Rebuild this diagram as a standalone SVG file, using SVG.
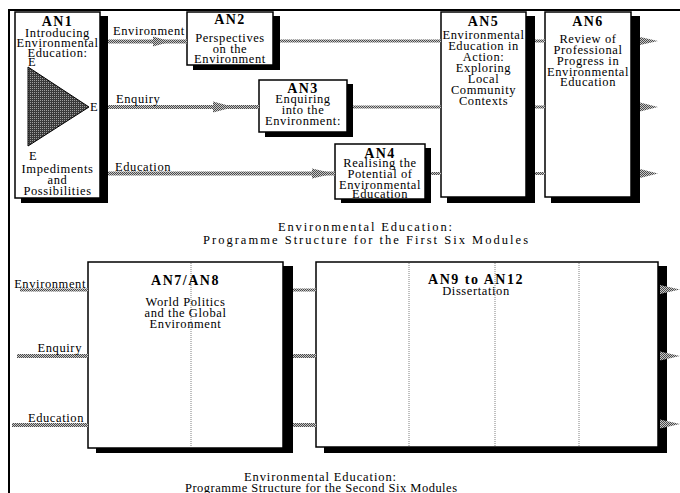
<svg xmlns="http://www.w3.org/2000/svg" width="680" height="493" viewBox="0 0 680 493">
<defs>
<pattern id="hatch" width="2" height="2" patternUnits="userSpaceOnUse"><rect width="2" height="2" fill="#c8c8c8"/><rect width="1" height="1" fill="#4a4a4a"/><rect x="1" y="1" width="1" height="1" fill="#4a4a4a"/></pattern>
<pattern id="dark" width="2" height="2" patternUnits="userSpaceOnUse"><rect width="2" height="2" fill="#3a3a3a"/><rect width="1" height="1" fill="#a0a0a0"/></pattern>
</defs>
<style>
.box{fill:#fff;stroke:#000;stroke-width:1.5}
.sh{fill:#000}
.t{font-family:"Liberation Serif","Times New Roman",serif;font-size:12.5px;letter-spacing:0.6px;text-anchor:middle;fill:#000}
.h{font-weight:bold;font-size:14px;letter-spacing:1.5px}
.l{text-anchor:start}
.r{text-anchor:end}
.cap{font-family:"Liberation Serif","Times New Roman",serif;font-size:12.5px;text-anchor:middle;fill:#000}
.band{fill:url(#hatch)}
.div{stroke:#808080;stroke-width:1;stroke-dasharray:1 1}
.frame{stroke:#000;stroke-width:2;fill:none}
</style>
<path class="frame" d="M9,493 V10 H680"/>

<g id="AN1">
<rect class="sh" x="21" y="16" width="87" height="187"/>
<rect class="box" x="15" y="12" width="85" height="186"/>
<polygon points="28,67 28,146 89,107" fill="url(#dark)" stroke="#000" stroke-width="1"/>
<text class="t h" x="57.5" y="26">AN1</text>
<text class="t" x="57.5" y="37">Introducing</text>
<text class="t" x="57.5" y="47">Environmental</text>
<text class="t" x="57.5" y="57">Education:</text>
<text class="t l" x="28" y="66">E</text>
<text class="t l" x="90" y="111">E</text>
<text class="t l" x="29" y="160">E</text>
<text class="t" x="57.5" y="173">Impediments</text>
<text class="t" x="57.5" y="184">and</text>
<text class="t" x="57.5" y="195">Possibilities</text>
</g>

<g id="AN2">
<rect class="sh" x="193" y="16" width="87" height="54"/>
<rect class="box" x="187" y="12" width="86" height="53"/>
<text class="t h" x="230" y="24">AN2</text>
<text class="t" x="230" y="42">Perspectives</text>
<text class="t" x="230" y="53">on the</text>
<text class="t" x="230" y="63">Environment</text>
</g>

<g id="AN3">
<rect class="sh" x="265" y="84" width="88" height="53"/>
<rect class="box" x="259" y="80" width="88" height="52"/>
<text class="t h" x="303" y="93">AN3</text>
<text class="t" x="303" y="103">Enquiring</text>
<text class="t" x="303" y="114">into the</text>
<text class="t" x="303" y="125">Environment:</text>
</g>

<g id="AN4">
<rect class="sh" x="341" y="148" width="90" height="55"/>
<rect class="box" x="335" y="144" width="90" height="55"/>
<text class="t h" x="380" y="158">AN4</text>
<text class="t" x="380" y="167">Realising the</text>
<text class="t" x="380" y="178">Potential of</text>
<text class="t" x="380" y="189">Environmental</text>
<text class="t" x="380" y="198">Education</text>
</g>

<g id="AN5">
<rect class="sh" x="447" y="16" width="88" height="187"/>
<rect class="box" x="441" y="12" width="85" height="185"/>
<text class="t h" x="483.5" y="26">AN5</text>
<text class="t" x="483.5" y="39">Environmental</text>
<text class="t" x="483.5" y="50">Education in</text>
<text class="t" x="483.5" y="61">Action:</text>
<text class="t" x="483.5" y="72">Exploring</text>
<text class="t" x="483.5" y="83">Local</text>
<text class="t" x="483.5" y="94">Community</text>
<text class="t" x="483.5" y="105">Contexts</text>
</g>

<g id="AN6">
<rect class="sh" x="551" y="16" width="89" height="187"/>
<rect class="box" x="545" y="12" width="86" height="185"/>
<text class="t h" x="588" y="26">AN6</text>
<text class="t" x="588" y="43">Review of</text>
<text class="t" x="588" y="54">Professional</text>
<text class="t" x="588" y="65">Progress in</text>
<text class="t" x="588" y="76">Environmental</text>
<text class="t" x="588" y="86">Education</text>
</g>

<g id="caption1">
<text class="cap" x="365" y="231" textLength="174" lengthAdjust="spacing">Environmental Education:</text>
<text class="cap" x="365.5" y="244" textLength="325" lengthAdjust="spacing">Programme Structure for the First Six Modules</text>
</g>

<g id="AN7-AN8">
<rect class="sh" x="96" y="266" width="197" height="187"/>
<rect class="box" x="88" y="262" width="195" height="186"/>
<line class="div" x1="191" y1="263" x2="191" y2="447"/>
<text class="t h" x="185.5" y="285">AN7/AN8</text>
<text class="t" x="185.5" y="306">World Politics</text>
<text class="t" x="185.5" y="317">and the Global</text>
<text class="t" x="185.5" y="328">Environment</text>
</g>

<g id="AN9-AN12">
<rect class="sh" x="324" y="266" width="343" height="187"/>
<rect class="box" x="316" y="262" width="342" height="185"/>
<line class="div" x1="409" y1="263" x2="409" y2="446"/>
<line class="div" x1="495" y1="263" x2="495" y2="446"/>
<line class="div" x1="579" y1="263" x2="579" y2="446"/>
<text class="t h" x="476" y="284">AN9 to AN12</text>
<text class="t" x="476" y="295">Dissertation</text>
</g>

<g id="caption2">
<text class="cap" x="320" y="481" font-size="11.5" textLength="152" lengthAdjust="spacing">Environmental Education:</text>
<text class="cap" x="321" y="492" font-size="11.5" textLength="272" lengthAdjust="spacing">Programme Structure for the Second Six Modules</text>
</g>

<g id="connectors">
<rect class="band" x="108" y="39.5" width="79" height="4"/>
<polygon class="band" points="153,36.5 171,41.5 153,46.5"/>
<rect class="band" x="280" y="39.5" width="161" height="3"/>
<rect class="band" x="108" y="105" width="151" height="4"/>
<polygon class="band" points="213,101.5 234,107 213,112.5"/>
<rect class="band" x="353" y="105.5" width="88" height="3"/>
<rect class="band" x="108" y="171.5" width="227" height="4"/>
<polygon class="band" points="312,168.5 334,173.5 312,178.5"/>
<rect class="band" x="431" y="172" width="10" height="3"/>
<rect class="band" x="535" y="39.5" width="10" height="3"/>
<rect class="band" x="535" y="105.5" width="10" height="3"/>
<rect class="band" x="535" y="172" width="10" height="3"/>
<polygon class="band" points="640,37 658,41 640,45"/>
<polygon class="band" points="640,102.5 658,107 640,111.5"/>
<polygon class="band" points="640,169 658,173.5 640,178"/>
<text class="t l" x="113" y="35">Environment</text>
<text class="t l" x="116" y="103">Enquiry</text>
<text class="t l" x="115" y="171">Education</text>

<rect class="band" x="20" y="288.5" width="68" height="3"/>
<rect class="band" x="17" y="354" width="71" height="4"/>
<rect class="band" x="12" y="423" width="76" height="4"/>
<rect class="band" x="293" y="288.5" width="23" height="3"/>
<rect class="band" x="293" y="354" width="23" height="4"/>
<rect class="band" x="293" y="423" width="23" height="4"/>
<polygon class="band" points="660,285 680,289.5 660,294"/>
<polygon class="band" points="660,351.5 680,356 660,360.5"/>
<polygon class="band" points="660,419.5 680,424 660,428.5"/>
<text class="t r" x="86" y="288">Environment</text>
<text class="t r" x="82" y="352">Enquiry</text>
<text class="t r" x="84" y="422">Education</text>
</g>
</svg>
